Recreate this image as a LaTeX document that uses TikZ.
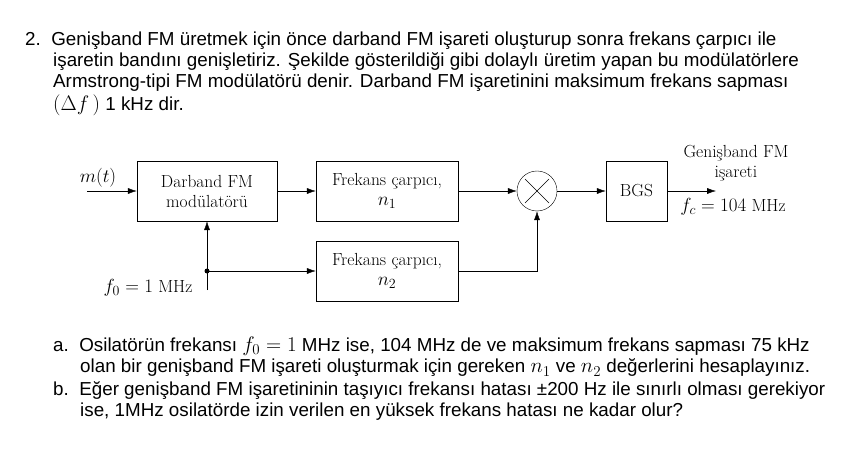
\RequirePackage{fix-cm}
\documentclass[tikz,border=0pt]{standalone}
\usepackage{fontspec}
\DeclareMathSizes{17.5}{19}{14}{11}
\DeclareMathSizes{18.8}{21}{15}{12}
\newfontfamily\sans{Liberation Sans}
\usetikzlibrary{arrows.meta}
\begin{document}
\begin{tikzpicture}[x=1pt,y=-1pt,
  txt/.style={anchor=west,inner sep=0,font=\sans\fontsize{18.8}{22}\selectfont},
  blk/.style={draw,fill=white,font=\fontsize{17.5}{20}\selectfont,align=center},
  lab/.style={inner sep=0,font=\fontsize{17.5}{20}\selectfont,align=center},
  arr/.style={-{Latex[length=9pt,width=6pt]}}]
\useasboundingbox[fill=white] (0,0) rectangle (848,462);
\node[txt] (t1) at (25,41) {2.\ \ Genişband FM üretmek için önce darband FM işareti oluşturup sonra frekans çarpıcı ile};
\node[txt] (t2) at (53,62) {işaretin bandını genişletiriz. Şekilde gösterildiği gibi dolaylı üretim yapan bu modülatörlere};
\node[txt] (t3) at (53,83) {Armstrong-tipi FM modülatörü denir. Darband FM işaretinini maksimum frekans sapması};
\node[txt] (t4) at (53,105) {$(\Delta f\,)$ 1 kHz dir.};
\node[txt] (a1) at (53,346) {a.\ \ Osilatörün frekansı $f_0=1$ MHz ise, 104 MHz de ve maksimum frekans sapması 75 kHz};
\node[txt] (a2) at (80,368) {olan bir genişband FM işareti oluşturmak için gereken $n_1$ ve $n_2$ değerlerini hesaplayınız.};
\node[txt] (b1) at (53,391) {b.\ \ Eğer genişband FM işaretininin taşıyıcı frekansı hatası ±200 Hz ile sınırlı olması gerekiyor};
\node[txt] (b2) at (80,412) {ise, 1MHz osilatörde izin verilen en yüksek frekans hatası ne kadar olur?};

\node[blk,minimum width=140,minimum height=60] (mod) at (207,191) {Darband FM\\modülatörü};
\node[blk,minimum width=142,minimum height=60] (f1) at (387,191) {Frekans çarpıcı,\\$n_1$};
\node[blk,minimum width=142,minimum height=60] (f2) at (387,271) {Frekans çarpıcı,\\$n_2$};
\node[draw,circle,minimum size=40,inner sep=0] (mx) at (537,191) {};
\draw ([shift={(-12,-12)}]mx.center) -- ([shift={(12,12)}]mx.center);
\draw ([shift={(-12,12)}]mx.center) -- ([shift={(12,-12)}]mx.center);
\node[blk,minimum width=61,minimum height=60] (bgs) at (636.5,191) {BGS};
\coordinate (in) at (87,191);
\coordinate (out) at (716,191);
\coordinate (fb) at (207,290);
\coordinate (j) at (207,271);
\node[lab] (mt) at (98,178) {$m(t)$};
\node[lab] (f0) at (148,288) {$f_0=1$ MHz};
\node[lab] (g) at (736,163) {Genişband FM\\işareti};
\node[lab] (fc) at (733,207) {$f_c=104$ MHz};
\draw[arr] (in) -- (mod);
\draw[arr] (mod) -- (f1);
\draw[arr] (f1) -- (mx);
\draw[arr] (mx) -- (bgs);
\draw[arr] (bgs) -- (out);
\draw[arr] (fb) -- (mod.south);
\draw[arr] (j) -- (f2.west);
\draw[arr] (f2.east) -| (mx.south);
\fill (j) circle (2.5);
\end{tikzpicture}
\end{document}
